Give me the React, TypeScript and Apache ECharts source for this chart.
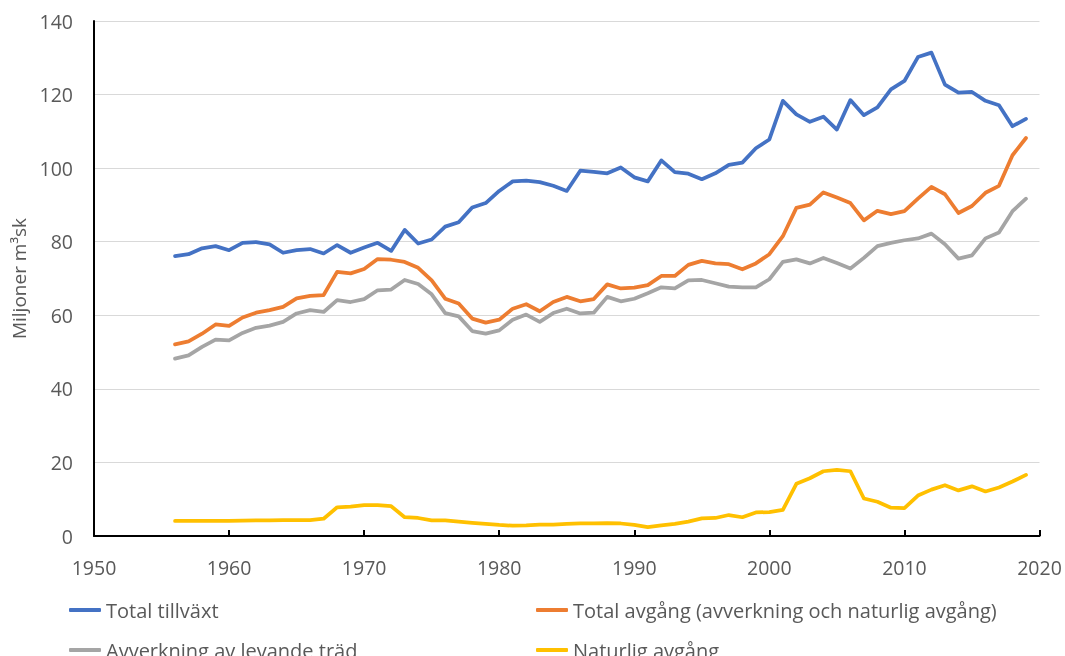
import React, { useEffect, useRef } from "react";
import * as echarts from "echarts";

const years: number[] = [];
for (let y = 1956; y <= 2019; y++) years.push(y);

const totalTillvaxt = [
  76.1, 76.6, 78.2, 78.8, 77.7, 79.7, 79.9, 79.3, 77.0, 77.7,
  78.0, 76.8, 79.1, 77.0, 78.4, 79.7, 77.5, 83.2, 79.5, 80.6,
  84.1, 85.3, 89.3, 90.5, 93.8, 96.4, 96.6, 96.2, 95.2, 93.8,
  99.3, 99.0, 98.6, 100.2, 97.5, 96.4, 102.1, 98.9, 98.5, 97.0,
  98.6, 100.9, 101.5, 105.4, 107.8, 118.3, 114.6, 112.6, 114.0, 110.5,
  118.5, 114.4, 116.5, 121.4, 123.7, 130.2, 131.4, 122.7, 120.5, 120.7,
  118.3, 117.1, 111.4, 113.4,
];

const totalAvgang = [
  52.1, 52.9, 55.0, 57.5, 57.1, 59.4, 60.7, 61.4, 62.3, 64.6,
  65.3, 65.5, 71.8, 71.4, 72.6, 75.3, 75.1, 74.5, 72.9, 69.5,
  64.5, 63.2, 59.1, 58.0, 58.8, 61.8, 63.0, 61.1, 63.6, 65.0,
  63.8, 64.4, 68.4, 67.3, 67.5, 68.2, 70.7, 70.7, 73.7, 74.8,
  74.1, 73.9, 72.5, 74.1, 76.6, 81.5, 89.2, 90.1, 93.4, 92.0,
  90.5, 85.8, 88.4, 87.5, 88.3, 91.7, 94.9, 92.9, 87.8, 89.7,
  93.3, 95.2, 103.5, 108.2,
];

const avverkning = [
  48.2, 49.1, 51.4, 53.4, 53.2, 55.2, 56.6, 57.2, 58.2, 60.5,
  61.4, 60.9, 64.1, 63.6, 64.4, 66.8, 67.0, 69.6, 68.5, 65.7,
  60.6, 59.7, 55.7, 55.0, 55.9, 58.8, 60.2, 58.2, 60.6, 61.8,
  60.5, 60.7, 65.0, 63.8, 64.5, 66.0, 67.6, 67.3, 69.5, 69.6,
  68.7, 67.8, 67.6, 67.6, 69.8, 74.5, 75.2, 74.1, 75.6, 74.2,
  72.7, 75.6, 78.8, 79.7, 80.4, 80.9, 82.2, 79.3, 75.4, 76.3,
  80.9, 82.5, 88.3, 91.7,
];

const naturligAvgang = [
  4.1, 4.1, 4.1, 4.1, 4.1, 4.2, 4.25, 4.25, 4.3, 4.3,
  4.3, 4.7, 7.8, 8.0, 8.4, 8.4, 8.1, 5.1, 4.9, 4.25,
  4.25, 3.9, 3.6, 3.3, 3.0, 2.8, 2.9, 3.1, 3.1, 3.3,
  3.4, 3.4, 3.5, 3.4, 3.0, 2.4, 2.9, 3.3, 3.9, 4.8,
  4.9, 5.7, 5.1, 6.4, 6.5, 7.1, 14.2, 15.7, 17.6, 18.0,
  17.6, 10.2, 9.3, 7.7, 7.6, 11.0, 12.6, 13.8, 12.4, 13.5,
  12.1, 13.2, 14.8, 16.6,
];

const seriesNames = [
  "Total tillväxt",
  "Total avgång (avverkning och naturlig avgång)",
  "Avverkning av levande träd",
  "Naturlig avgång",
];
const seriesColors = ["#4472C4", "#ED7D31", "#A5A5A5", "#FFC000"];
const seriesValues = [totalTillvaxt, totalAvgang, avverkning, naturligAvgang];

const yAxisTitle = "Miljoner m³sk";

const FONT = "'Open Sans', 'Noto Sans', sans-serif";
const TEXT_COLOR = "#595959";

export default function App() {
  const ref = useRef<HTMLDivElement>(null);

  useEffect(() => {
    if (!ref.current) return;
    const chart = echarts.init(ref.current, undefined, { renderer: "svg" });

    const legendPos = [
      { left: 69, top: 600 },
      { left: 536, top: 600 },
      { left: 69, top: 640 },
      { left: 536, top: 640 },
    ];

    chart.setOption({
      animation: false,
      textStyle: { fontFamily: FONT },
      grid: { left: 94, right: 25.5, top: 21, bottom: 120, containLabel: false },
      legend: seriesNames.map((name, i) => ({
        data: [name],
        left: legendPos[i].left,
        top: legendPos[i].top,
        padding: 0,
        itemWidth: 32,
        itemHeight: 4,
        icon: "roundRect",
        selectedMode: false,
        textStyle: {
          fontFamily: FONT,
          fontSize: 20,
          color: TEXT_COLOR,
          lineHeight: 20,
        },
      })),
      xAxis: {
        type: "value",
        min: 1950,
        max: 2020,
        interval: 10,
        axisLine: { show: true, lineStyle: { color: "#000000", width: 2 } },
        axisTick: { show: true, inside: true, length: 6, lineStyle: { color: "#000000", width: 2 } },
        axisLabel: {
          formatter: (v: number) => String(v),
          fontFamily: FONT,
          fontSize: 19.5,
          color: TEXT_COLOR,
          margin: 21,
        },
        splitLine: { show: false },
      },
      yAxis: {
        type: "value",
        min: 0,
        max: 140,
        interval: 20,
        name: yAxisTitle,
        nameLocation: "middle",
        nameGap: 64,
        nameTextStyle: { fontFamily: FONT, fontSize: 19, color: TEXT_COLOR },
        axisLine: { show: true, lineStyle: { color: "#000000", width: 2 } },
        axisTick: { show: false },
        axisLabel: {
          fontFamily: FONT,
          fontSize: 19.5,
          color: TEXT_COLOR,
          margin: 21,
        },
        splitLine: { show: true, lineStyle: { color: "#D9D9D9", width: 1 } },
      },
      series: seriesNames.map((name, i) => ({
        name,
        type: "line",
        data: years.map((yr, j) => [yr, seriesValues[i][j]]),
        showSymbol: false,
        symbol: "none",
        color: seriesColors[i],
        lineStyle: { color: seriesColors[i], width: 3.75, cap: "round", join: "round" },
      })),
    });

    return () => chart.dispose();
  }, []);

  return (
    <div
      ref={ref}
      style={{ position: "fixed", left: 0, top: 0, width: 1065, height: 656 }}
    />
  );
}
